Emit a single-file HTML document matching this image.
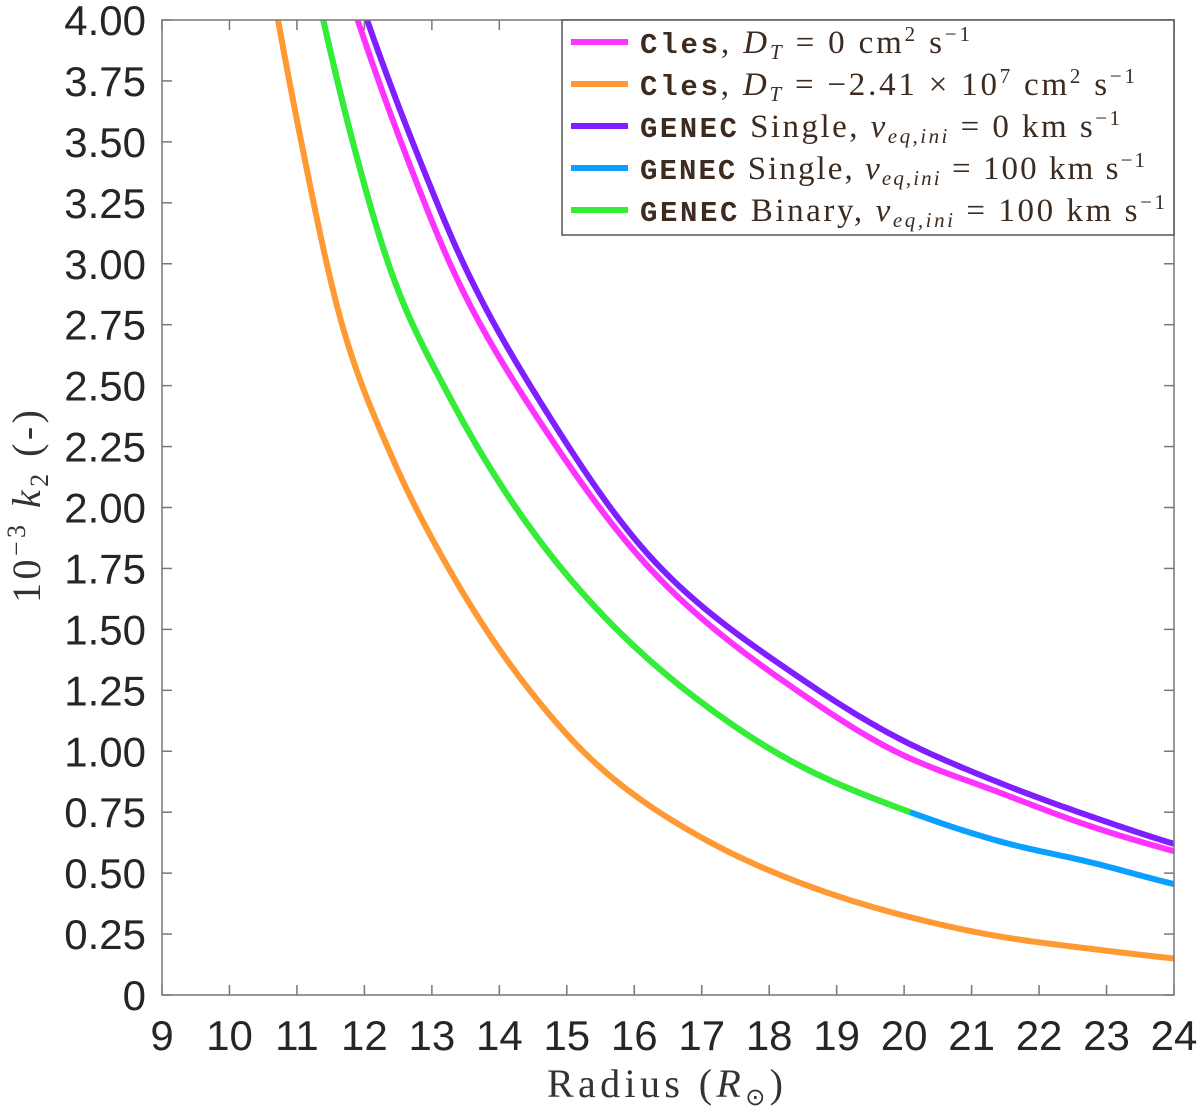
<!DOCTYPE html>
<html><head><meta charset="utf-8"><style>
html,body{margin:0;padding:0;background:#fff;}
svg{display:block;}
.tk{font-family:"Liberation Sans",sans-serif;font-size:42px;fill:#262626;}
.lg{font-family:"Liberation Serif",serif;font-size:33px;fill:#3d2b1f;}
.mono{font-family:"Liberation Mono",monospace;font-weight:bold;font-size:29px;}
</style></head><body>
<svg id="chart" width="1200" height="1114">
<g id="series"></g>
<g id="axes"></g>
<g>
<rect x="562" y="20" width="612" height="215" fill="#fff" stroke="#555" stroke-width="1.5"/>
<g id="legendlines"></g>
<text class="lg" x="640" y="53" textLength="330"><tspan class="mono">Cles</tspan>, <tspan font-style="italic">D</tspan><tspan font-style="italic" font-size="21" dy="6">T</tspan><tspan dy="-6"> = 0 cm</tspan><tspan font-size="21" dy="-12">2</tspan><tspan dy="12"> s</tspan><tspan font-size="21" dy="-12">−1</tspan></text>
<text class="lg" x="640" y="95" textLength="495"><tspan class="mono">Cles</tspan>, <tspan font-style="italic">D</tspan><tspan font-style="italic" font-size="21" dy="6">T</tspan><tspan dy="-6"> = −2.41 × 10</tspan><tspan font-size="21" dy="-12">7</tspan><tspan dy="12"> cm</tspan><tspan font-size="21" dy="-12">2</tspan><tspan dy="12"> s</tspan><tspan font-size="21" dy="-12">−1</tspan></text>
<text class="lg" x="640" y="137" textLength="480"><tspan class="mono">GENEC</tspan> Single, <tspan font-style="italic">v</tspan><tspan font-style="italic" font-size="21" dy="6">eq,ini</tspan><tspan dy="-6">  = 0 km s</tspan><tspan font-size="21" dy="-12">−1</tspan></text>
<text class="lg" x="640" y="179" textLength="505"><tspan class="mono">GENEC</tspan> Single, <tspan font-style="italic">v</tspan><tspan font-style="italic" font-size="21" dy="6">eq,ini</tspan><tspan dy="-6">  = 100 km s</tspan><tspan font-size="21" dy="-12">−1</tspan></text>
<text class="lg" x="640" y="221" textLength="525"><tspan class="mono">GENEC</tspan> Binary, <tspan font-style="italic">v</tspan><tspan font-style="italic" font-size="21" dy="6">eq,ini</tspan><tspan dy="-6">  = 100 km s</tspan><tspan font-size="21" dy="-12">−1</tspan></text>
</g>
<text x="547" y="1097" textLength="236" font-family="Liberation Serif,serif" font-size="40" fill="#333">Radius (<tspan font-style="italic">R</tspan><tspan font-size="24" dy="8">⊙</tspan><tspan dy="-8">)</tspan></text>
<text transform="translate(40,603) rotate(-90)" textLength="193" font-family="Liberation Serif,serif" font-size="40" fill="#333">10<tspan font-size="26" dy="-15">−3</tspan><tspan dy="15"> </tspan><tspan font-style="italic">k</tspan><tspan font-size="26" dy="8">2</tspan><tspan dy="-8"> (-)</tspan></text>
</svg>
<script>
const xTicks=[9,10,11,12,13,14,15,16,17,18,19,20,21,22,23,24];
const yTicks=[0,0.25,0.5,0.75,1,1.25,1.5,1.75,2,2.25,2.5,2.75,3,3.25,3.5,3.75,4];
const yTickLabels=["0","0.25","0.50","0.75","1.00","1.25","1.50","1.75","2.00","2.25","2.50","2.75","3.00","3.25","3.50","3.75","4.00"];
const magR=[11.9,12.68,13.27,14.75,16.23,18.46,19.94,21.42,22.9,24];
const magV=[4.0,3.40,3.0,2.29,1.75,1.24,0.99,0.83,0.68,0.59];
const oraR=[10.72,11.05,11.68,12.42,13.27,14.45,15.39,16.97,18.46,19.94,21.42,22.9,24];
const oraV=[4.0,3.52,2.74,2.2,1.74,1.25,0.96,0.65,0.46,0.33,0.24,0.185,0.15];
const purR=[12.04,12.93,13.37,14.75,16.23,18.46,19.94,21.42,22.9,24];
const purV=[4.0,3.35,3.06,2.37,1.80,1.30,1.05,0.87,0.72,0.62];
const bluR=[11.39,11.79,12.42,13.27,14.5,15.74,16.95,18.46,20.09,21.42,22.9,24];
const bluV=[4.0,3.54,2.95,2.45,1.90,1.50,1.21,0.94,0.75,0.63,0.535,0.455];
const grnR=[11.39,11.79,12.42,13.27,14.5,15.74,16.95,18.46,20.09];
const grnV=[4.0,3.54,2.95,2.45,1.90,1.50,1.21,0.94,0.75];
const X0=162,X1=1174,Y0=995,Y1=20;
const sx=v=>X0+(v-9)/(24-9)*(X1-X0);
const sy=v=>Y0-(v-0)/4*(Y0-Y1);
const NS="http://www.w3.org/2000/svg";
function mk(tag,parent,attrs){const e=document.createElementNS(NS,tag);for(const k in attrs)e.setAttribute(k,attrs[k]);parent.appendChild(e);return e;}
const axes=document.getElementById('axes');
const box=mk('rect',axes,{x:X0,y:Y1,width:X1-X0,height:Y0-Y1,fill:'none',stroke:'#777','stroke-width':1.5});


xTicks.forEach(t=>{
 const x=sx(t);
 mk('line',axes,{x1:x,x2:x,y1:Y0,y2:Y0-10,stroke:'#777','stroke-width':1.5});
 mk('line',axes,{x1:x,x2:x,y1:Y1,y2:Y1+10,stroke:'#777','stroke-width':1.5});
 const l=mk('text',axes,{x:x,y:1050,'text-anchor':'middle',class:'tk'});l.textContent=t;
 
 
});
yTicks.forEach((t,i)=>{
 const y=sy(t);
 mk('line',axes,{x1:X0,x2:X0+10,y1:y,y2:y,stroke:'#777','stroke-width':1.5});
 mk('line',axes,{x1:X1,x2:X1-10,y1:y,y2:y,stroke:'#777','stroke-width':1.5});
 const l=mk('text',axes,{x:146,y:y+15,'text-anchor':'end',class:'tk'});l.textContent=yTickLabels[i];
 
 
});
function path(R,V0){
 const V=V0.map(v=>Math.log(v));
 const n=R.length,d=[],m=[];
 for(let i=0;i<n-1;i++)d.push((V[i+1]-V[i])/(R[i+1]-R[i]));
 m[0]=d[0];m[n-1]=d[n-2];
 for(let i=1;i<n-1;i++){
  const w1=R[i+1]-R[i],w0=R[i]-R[i-1];
  m[i]=(d[i-1]*w1+d[i]*w0)/(w0+w1);
 }
 let s='M'+sx(R[0])+','+sy(V0[0]);
 for(let i=0;i<n-1;i++){
  const h=R[i+1]-R[i];
  for(let k=1;k<=24;k++){
   const t=k/24,h00=2*t*t*t-3*t*t+1,h10=t*t*t-2*t*t+t,h01=-2*t*t*t+3*t*t,h11=t*t*t-t*t;
   const v=Math.exp(h00*V[i]+h10*h*m[i]+h01*V[i+1]+h11*h*m[i+1]);
   s+=' L'+sx(R[i]+t*h).toFixed(2)+','+sy(v).toFixed(2);
  }
 }
 return s;
}
const ser=document.getElementById('series');
const defs=mk('defs',ser,{});
const cp=mk('clipPath',defs,{id:'clip'});
mk('rect',cp,{x:X0,y:Y1,width:X1-X0,height:Y0-Y1});
const S=[[oraR,oraV,'#ff9933','cles-dt-negative-line'],[magR,magV,'#ff33ff','cles-dt0-line'],[purR,purV,'#7f1fff','genec-single-v0-line'],[bluR,bluV,'#0aa0ff','genec-single-v100-line'],[grnR,grnV,'#33ee33','genec-binary-v100-line']];
S.forEach(s=>{
 const e=mk('path',ser,{d:path(s[0],s[1]),fill:'none',stroke:s[2],'stroke-width':6,'stroke-linejoin':'round','clip-path':'url(#clip)'});
 
 
});
const ll=document.getElementById('legendlines');
['#ff33ff','#ff9933','#7f1fff','#0aa0ff','#33ee33'].forEach((c,i)=>{
 const e=mk('line',ll,{x1:571,x2:628,y1:42+42*i,y2:42+42*i,stroke:c,'stroke-width':6});
 
 
});
</script>
</body></html>
